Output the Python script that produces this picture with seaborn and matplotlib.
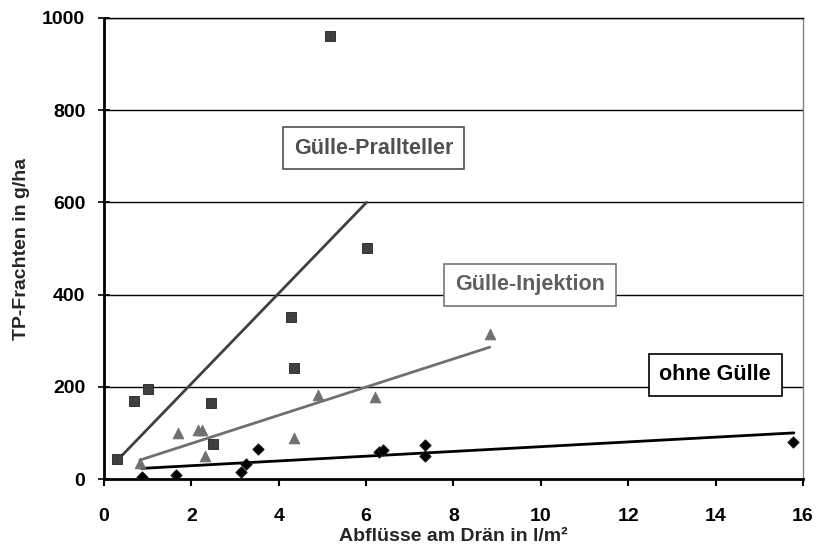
import matplotlib
matplotlib.use("Agg")
import matplotlib.pyplot as plt
import seaborn as sns
import pandas as pd

# ---- data ----
prall_x = [0.30, 0.69, 1.00, 2.45, 2.50, 4.27, 4.35, 5.18, 6.01]
prall_y = [43, 170, 196, 164, 76, 351, 241, 960, 501]

inj_x = [0.82, 1.69, 2.15, 2.24, 2.32, 4.35, 4.90, 6.20, 8.83]
inj_y = [35, 100, 106, 106, 50, 90, 182, 177, 315]

ohne_x = [0.87, 1.65, 3.13, 3.24, 3.52, 6.30, 6.39, 7.35, 7.35, 15.77]
ohne_y = [5, 9, 16, 32, 64, 58, 63, 74, 50, 81]

# trend lines (endpoints)
prall_trend_x = [0.35, 6.01]
prall_trend_y = [45, 600]
inj_trend_x = [0.82, 8.83]
inj_trend_y = [41, 286]
ohne_trend_x = [0.86, 15.79]
ohne_trend_y = [23, 100]

series_names = ["Gülle-Prallteller", "Gülle-Injektion", "ohne Gülle"]
colors = {"Gülle-Prallteller": "#404040", "Gülle-Injektion": "#707070", "ohne Gülle": "#000000"}
markers = {"Gülle-Prallteller": "s", "Gülle-Injektion": "^", "ohne Gülle": "D"}

x_ticks = [0, 2, 4, 6, 8, 10, 12, 14, 16]
y_ticks = [0, 200, 400, 600, 800, 1000]
x_title = "Abflüsse am Drän in l/m²"
y_title = "TP-Frachten in g/ha"

# label positions (data coords)
label_pos = {"Gülle-Prallteller": (6.17, 718), "Gülle-Injektion": (9.75, 421), "ohne Gülle": (13.99, 226)}

# ---- build frames ----
df = pd.concat([
    pd.DataFrame({"x": prall_x, "y": prall_y, "s": series_names[0]}),
    pd.DataFrame({"x": inj_x, "y": inj_y, "s": series_names[1]}),
    pd.DataFrame({"x": ohne_x, "y": ohne_y, "s": series_names[2]}),
])
tr = pd.concat([
    pd.DataFrame({"x": prall_trend_x, "y": prall_trend_y, "s": series_names[0]}),
    pd.DataFrame({"x": inj_trend_x, "y": inj_trend_y, "s": series_names[1]}),
    pd.DataFrame({"x": ohne_trend_x, "y": ohne_trend_y, "s": series_names[2]}),
])

sns.set_theme(style="white")
plt.rcParams["font.family"] = ["Liberation Sans", "DejaVu Sans"]
plt.rcParams["font.weight"] = "bold"

fig = plt.figure(figsize=(8.17, 5.56), dpi=100)
ax = fig.add_axes([104 / 817, 1 - 479 / 556, (803 - 104) / 817, (479 - 18) / 556])

for y in y_ticks[1:]:
    ax.axhline(y, color="black", lw=1.0, zorder=0)

sns.lineplot(data=tr, x="x", y="y", hue="s", palette=colors, lw=2.0,
             legend=False, ax=ax, sort=False, estimator=None, zorder=2)

sizes = {"Gülle-Prallteller": 50, "Gülle-Injektion": 60, "ohne Gülle": 34}
for name in series_names:
    sub = df[df.s == name]
    sns.scatterplot(data=sub, x="x", y="y", color=colors[name], marker=markers[name],
                    s=sizes[name], edgecolor="#222222" if name != "Gülle-Injektion" else colors[name],
                    linewidth=0.6, legend=False, ax=ax, zorder=3)

txt_col = {"Gülle-Prallteller": "#505050", "Gülle-Injektion": "#606060", "ohne Gülle": "#000000"}
box_col = {"Gülle-Prallteller": "#505050", "Gülle-Injektion": "#777777", "ohne Gülle": "#000000"}
for name in series_names:
    x, y = label_pos[name]
    ax.text(x, y, name, ha="center", va="center", fontsize=15.5, fontweight="bold",
            color=txt_col[name],
            bbox=dict(boxstyle="square,pad=0.5", fc="white", ec=box_col[name], lw=1.2), zorder=5)

ax.set_xlim(0, 16)
ax.set_ylim(0, 1000)
ax.set_xticks(x_ticks)
ax.set_yticks(y_ticks)
ax.set_xticklabels([str(v) for v in x_ticks], fontsize=14, fontweight="bold")
ax.set_yticklabels([str(v) for v in y_ticks], fontsize=14, fontweight="bold")
ax.set_xlabel(x_title, fontsize=14, fontweight="bold", labelpad=2)
ax.set_ylabel(y_title, fontsize=14, fontweight="bold", labelpad=9)

ax.tick_params(axis="y", direction="inout", length=9, width=1.2, colors="black", pad=9, left=True)
ax.tick_params(axis="x", direction="out", length=5, width=1.5, colors="black", pad=16, bottom=True)

for side in ["left", "bottom"]:
    ax.spines[side].set_color("black")
    ax.spines[side].set_linewidth(2.0)
ax.spines["top"].set_color("black")
ax.spines["top"].set_linewidth(1.0)
ax.spines["right"].set_color("#808080")
ax.spines["right"].set_linewidth(1.0)

fig.savefig("out.png", dpi=100, facecolor="white")
